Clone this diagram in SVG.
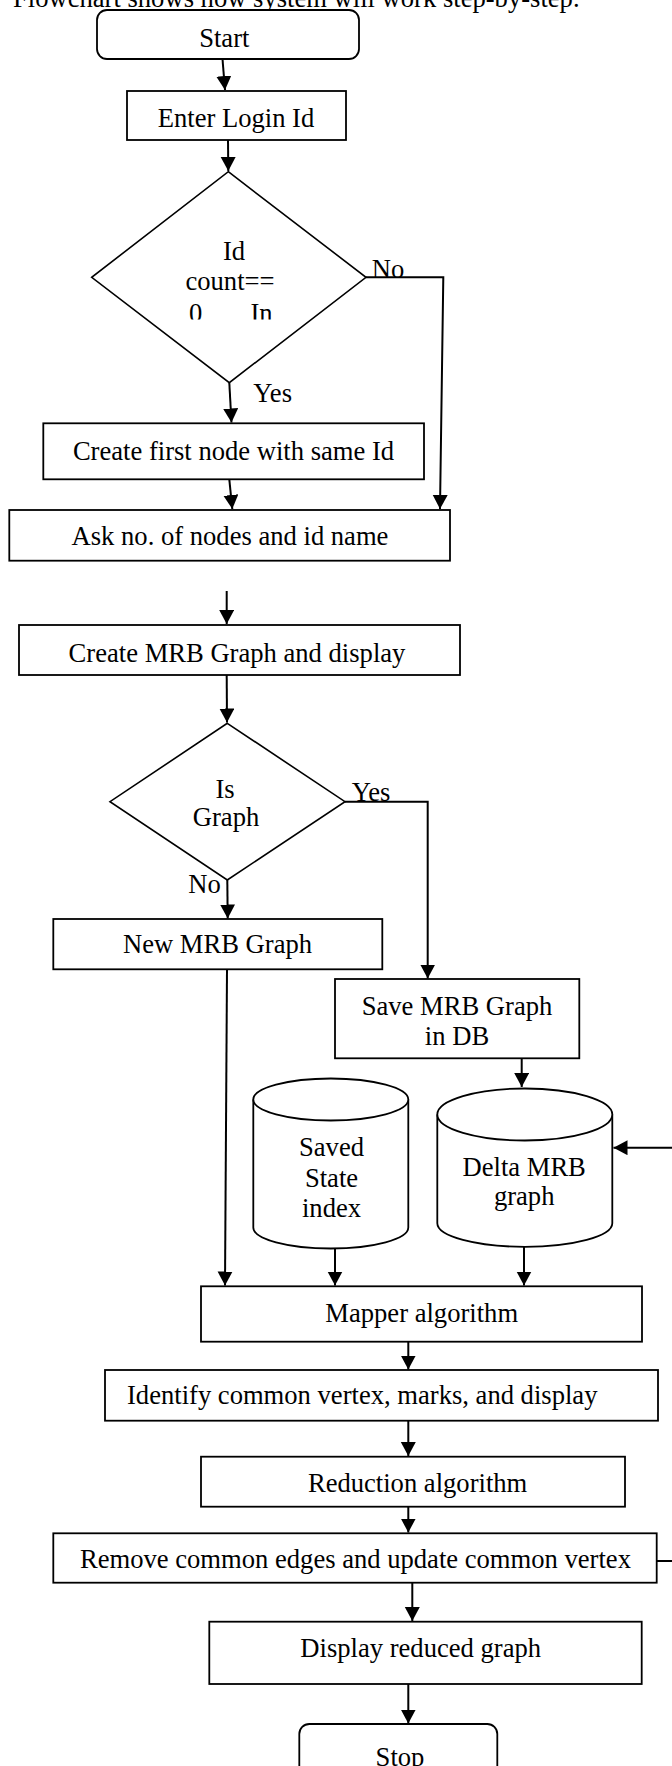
<svg xmlns="http://www.w3.org/2000/svg" width="672" height="1766" viewBox="0 0 672 1766">
<style>
text{font-family:"Liberation Serif","Times New Roman",serif;font-size:26.6px;fill:#000}
.c{text-anchor:middle}
.box{fill:#fff;stroke:#000;stroke-width:1.8}
.dia{fill:#fff;stroke:#000;stroke-width:1.6}
.ln{fill:none;stroke:#000;stroke-width:2}
.arr{fill:none;stroke:#000;stroke-width:2;marker-end:url(#ah)}
</style>
<defs>
<marker id="ah" markerUnits="userSpaceOnUse" markerWidth="16" markerHeight="16" refX="14" refY="7.5" orient="auto">
<path d="M0,0 L14,7.5 L0,15 Z" fill="#000"/>
</marker>
<clipPath id="clipd1"><rect x="0" y="290" width="672" height="29.5"/></clipPath>
</defs>
<rect width="672" height="1766" fill="#fff"/>
<text id="title" x="13" y="7">Flowchart shows how system will work step-by-step.</text>

<g id="connectors">
<path class="arr" d="M222.5,59 L225,90"/>
<path class="arr" d="M228,140 L228.3,171"/>
<path class="arr" d="M229.3,382.7 L231.5,422.5"/>
<path class="arr" d="M366,277.3 L443.3,277.3 L440,509"/>
<path class="arr" d="M229.3,479.3 L232.3,509"/>
<path class="arr" d="M226.7,591 L226.7,624"/>
<path class="arr" d="M226.7,675 L227,722.5"/>
<path class="arr" d="M345,801.7 L427.7,801.7 L427.7,978.5"/>
<path class="arr" d="M227.3,880 L227.7,918.5"/>
<path class="arr" d="M227,969.3 L225,1285.5"/>
<path class="arr" d="M521.7,1058.3 L521.7,1087"/>
<path class="arr" d="M335,1248.3 L335,1285.5"/>
<path class="arr" d="M524,1247 L524,1285.5"/>
<path class="arr" d="M672,1147.7 L613.5,1147.7"/>
<path class="arr" d="M408.3,1341.7 L408.3,1369.5"/>
<path class="arr" d="M408.3,1420.7 L408.3,1456"/>
<path class="arr" d="M408.3,1506.7 L408.3,1532.5"/>
<path class="ln" d="M656.7,1561 L672,1561"/>
<path class="arr" d="M412.3,1582.7 L412.3,1621"/>
<path class="arr" d="M408.3,1684 L408.3,1723.5"/>
</g>

<g id="start">
<rect class="box" x="97" y="10" width="262" height="49" rx="10"/>
<text class="c" x="224.3" y="47">Start</text>
</g>
<g id="enter-login">
<rect class="box" x="127" y="91" width="219" height="49"/>
<text class="c" x="236" y="127">Enter Login Id</text>
</g>
<g id="decision-id-count">
<path class="dia" d="M228.3,171.7 L366,277.3 L229.3,382.7 L91.7,277.3 Z"/>
<text class="c" x="234" y="260">Id</text>
<text class="c" x="230" y="290">count==</text>
<g clip-path="url(#clipd1)">
<text x="189" y="322">0</text>
<text x="250.5" y="322">In</text>
</g>
<text x="371.7" y="278">No</text>
<text x="253.3" y="401.7">Yes</text>
</g>
<g id="create-first-node">
<rect class="box" x="43.3" y="423.3" width="380.7" height="56"/>
<text class="c" x="233.5" y="460">Create first node with same Id</text>
</g>
<g id="ask-nodes">
<rect class="box" x="9.3" y="510" width="440.7" height="50.7"/>
<text class="c" x="230" y="545">Ask no. of nodes and id name</text>
</g>
<g id="create-mrb">
<rect class="box" x="19" y="625" width="441" height="50"/>
<text class="c" x="237" y="661.7">Create MRB Graph and display</text>
</g>
<g id="decision-is-graph">
<path class="dia" d="M227.3,723.3 L345,801.7 L227.3,880 L110,801.7 Z"/>
<text class="c" x="225" y="798">Is</text>
<text class="c" x="226" y="826">Graph</text>
<text x="351.7" y="801">Yes</text>
<text x="188.3" y="893">No</text>
</g>
<g id="new-mrb">
<rect class="box" x="53.3" y="919" width="329" height="50.3"/>
<text class="c" x="217.5" y="953">New MRB Graph</text>
</g>
<g id="save-mrb">
<rect class="box" x="335" y="979" width="244.3" height="79.3"/>
<text class="c" x="457" y="1015">Save MRB Graph</text>
<text class="c" x="457" y="1045">in DB</text>
</g>
<g id="saved-state-index">
<path class="box" d="M253.3,1099.5 L253.3,1227.5 A77.5,21 0 0,0 408.3,1227.5 L408.3,1099.5"/>
<ellipse class="box" cx="330.8" cy="1099.5" rx="77.5" ry="21"/>
<text class="c" x="331.5" y="1156">Saved</text>
<text class="c" x="331.5" y="1186.7">State</text>
<text class="c" x="331.5" y="1216.7">index</text>
</g>
<g id="delta-mrb-graph">
<path class="box" d="M437.3,1114.5 L437.3,1223.3 A87.5,23.5 0 0,0 612.3,1223.3 L612.3,1114.5"/>
<ellipse class="box" cx="524.8" cy="1114.5" rx="87.5" ry="26"/>
<text class="c" x="524.2" y="1176">Delta MRB</text>
<text class="c" x="524.2" y="1205">graph</text>
</g>
<g id="mapper">
<rect class="box" x="201" y="1286.3" width="441" height="55.4"/>
<text class="c" x="421.7" y="1321.7">Mapper algorithm</text>
</g>
<g id="identify">
<rect class="box" x="105" y="1370" width="553" height="50.7"/>
<text x="127" y="1404">Identify common vertex, marks, and display</text>
</g>
<g id="reduction">
<rect class="box" x="201" y="1456.7" width="424" height="50"/>
<text class="c" x="417.6" y="1491.5">Reduction algorithm</text>
</g>
<g id="remove">
<rect class="box" x="53.3" y="1533.3" width="603.4" height="49.4"/>
<text x="80" y="1568.3">Remove common edges and update common vertex</text>
</g>
<g id="display">
<rect class="box" x="209.3" y="1621.7" width="432.4" height="62.3"/>
<text class="c" x="420.7" y="1656.7">Display reduced graph</text>
</g>
<g id="stop">
<rect class="box" x="299.3" y="1724" width="198" height="80" rx="10"/>
<text class="c" x="400" y="1766">Stop</text>
</g>
</svg>
